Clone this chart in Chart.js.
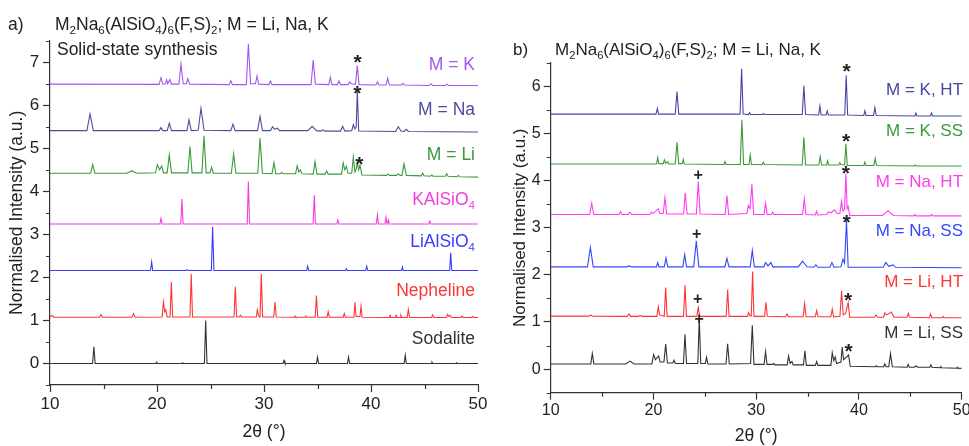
<!DOCTYPE html>
<html>
<head>
<meta charset="utf-8">
<script src="https://cdn.jsdelivr.net/npm/chart.js@4.4.1/dist/chart.umd.min.js"></script>
<style>
  html, body { margin: 0; padding: 0; background: #fff; }
  body { width: 969px; height: 446px; position: relative; overflow: hidden; }
  .panel { position: absolute; top: 0; height: 446px; }
  #wrapA { left: 0; width: 490px; }
  #wrapB { left: 490px; width: 479px; }
</style>
</head>
<body>
<div class="panel" id="wrapA"><canvas id="chartA"></canvas></div>
<div class="panel" id="wrapB"><canvas id="chartB"></canvas></div>
<script>
// ---- panel a: solid-state products and reference phases, [2theta, normalised intensity]
var kSS = [[10,6.49],[20.2,6.485],[20.37,6.64],[20.55,6.49],[20.8,6.5],[20.9,6.59],[21.0,6.5],[21.2,6.6],[21.35,6.49],[22.05,6.49],[22.24,6.96],[22.45,6.5],[22.75,6.5],[22.87,6.62],[23.05,6.49],[26.75,6.48],[26.9,6.57],[27.05,6.48],[28.35,6.48],[28.54,7.42],[28.75,6.5],[29.2,6.5],[29.35,6.68],[29.5,6.49],[30.45,6.48],[30.6,6.56],[30.75,6.48],[34.4,6.48],[34.6,7.05],[34.8,6.49],[36.05,6.48],[36.2,6.65],[36.35,6.48],[36.85,6.48],[37.0,6.56],[37.15,6.48],[37.85,6.48],[38.0,6.54],[38.15,6.5],[38.55,6.49],[38.72,6.92],[38.88,6.48],[40.45,6.47],[40.6,6.54],[40.75,6.47],[41.4,6.47],[41.56,6.63],[41.72,6.47],[42.85,6.47],[43.0,6.51],[43.15,6.47],[45.45,6.46],[45.6,6.5],[45.75,6.46],[46.95,6.46],[47.1,6.49],[47.25,6.46],[50,6.46]];
var naSS = [[10,5.41],[13.45,5.41],[13.74,5.80],[14.05,5.41],[20.2,5.41],[20.37,5.48],[20.55,5.41],[20.95,5.41],[21.15,5.58],[21.35,5.41],[22.8,5.41],[22.99,5.66],[23.2,5.41],[23.85,5.42],[24.11,5.93],[24.4,5.42],[26.9,5.41],[27.1,5.56],[27.3,5.41],[29.4,5.41],[29.63,5.74],[29.85,5.41],[30.6,5.41],[30.8,5.5],[31.0,5.44],[31.25,5.47],[31.45,5.41],[34.1,5.41],[34.5,5.51],[34.9,5.41],[35.3,5.4],[35.5,5.43],[35.7,5.4],[37.15,5.4],[37.35,5.51],[37.55,5.4],[38.2,5.41],[38.35,5.55],[38.5,5.45],[38.62,5.5],[38.72,6.35],[38.85,5.4],[42.3,5.39],[42.55,5.5],[42.8,5.4],[43.1,5.39],[43.3,5.44],[43.5,5.39],[50,5.38]];
var liSS = [[10,4.42],[13.8,4.42],[13.99,4.62],[14.2,4.42],[17.2,4.42],[17.63,4.48],[18.1,4.42],[19.85,4.43],[20.03,4.62],[20.25,4.5],[20.44,4.59],[20.6,4.43],[20.95,4.43],[21.15,4.85],[21.35,4.43],[22.88,4.43],[23.08,5.04],[23.28,4.43],[24.2,4.43],[24.39,5.29],[24.6,4.43],[24.95,4.43],[25.1,4.56],[25.25,4.42],[26.95,4.42],[27.16,4.87],[27.37,4.42],[29.42,4.42],[29.63,5.23],[29.85,4.42],[30.75,4.41],[30.93,4.67],[31.1,4.41],[31.5,4.41],[31.65,4.44],[31.8,4.41],[32.95,4.41],[33.1,4.59],[33.25,4.45],[33.4,4.5],[33.55,4.41],[34.6,4.4],[34.77,4.69],[34.95,4.4],[35.7,4.4],[35.86,4.47],[36.0,4.4],[37.25,4.4],[37.4,4.66],[37.55,4.5],[37.7,4.58],[37.85,4.42],[38.2,4.42],[38.35,4.8],[38.5,4.45],[38.6,4.5],[38.72,4.67],[38.85,4.5],[38.97,4.61],[39.15,4.38],[41.45,4.37],[41.6,4.4],[41.75,4.37],[42.4,4.37],[42.55,4.41],[42.7,4.37],[42.9,4.37],[43.08,4.64],[43.3,4.37],[44.7,4.36],[44.83,4.42],[44.95,4.36],[45.55,4.35],[45.67,4.38],[45.8,4.35],[46.95,4.35],[47.07,4.41],[47.2,4.35],[48.05,4.34],[48.16,4.37],[48.3,4.34],[50,4.33]];
var kalsio4 = [[10,3.24],[20.27,3.24],[20.37,3.37],[20.47,3.24],[22.22,3.24],[22.33,3.82],[22.44,3.24],[28.43,3.24],[28.54,4.23],[28.65,3.24],[34.59,3.24],[34.7,3.91],[34.81,3.24],[36.8,3.24],[36.9,3.34],[37.0,3.24],[40.5,3.24],[40.6,3.45],[40.7,3.24],[41.3,3.24],[41.4,3.4],[41.5,3.24],[41.55,3.24],[41.63,3.33],[41.7,3.24],[45.4,3.24],[45.5,3.31],[45.6,3.24],[50,3.24]];
var lialsio4 = [[10,2.16],[19.4,2.16],[19.5,2.36],[19.6,2.16],[22.7,2.16],[22.8,2.18],[22.9,2.16],[25.08,2.16],[25.2,3.17],[25.32,2.16],[33.98,2.16],[34.08,2.26],[34.18,2.16],[37.62,2.16],[37.7,2.2],[37.78,2.16],[39.5,2.16],[39.6,2.26],[39.7,2.16],[42.85,2.16],[42.93,2.24],[43.01,2.16],[47.35,2.16],[47.45,2.57],[47.55,2.16],[50,2.16]];
var nepheline = [[10,1.075],[10.2,1.12],[10.35,1.075],[14.65,1.075],[14.77,1.14],[14.9,1.075],[17.65,1.075],[17.8,1.16],[17.95,1.075],[20.48,1.08],[20.6,1.43],[20.72,1.2],[20.83,1.25],[20.95,1.08],[21.22,1.08],[21.34,1.89],[21.46,1.08],[23.08,1.08],[23.2,2.08],[23.32,1.08],[27.2,1.08],[27.32,1.78],[27.44,1.08],[27.7,1.08],[27.8,1.12],[27.9,1.08],[29.28,1.08],[29.38,1.25],[29.5,1.1],[29.63,1.08],[29.75,2.08],[29.87,1.08],[30.91,1.08],[31.03,1.43],[31.15,1.08],[32.82,1.075],[32.9,1.1],[32.98,1.075],[33.82,1.075],[33.9,1.1],[33.98,1.075],[34.78,1.075],[34.9,1.58],[35.02,1.075],[35.9,1.075],[36.0,1.2],[36.1,1.075],[37.4,1.075],[37.5,1.16],[37.6,1.075],[38.4,1.075],[38.5,1.42],[38.6,1.09],[38.97,1.09],[39.07,1.33],[39.17,1.075],[41.72,1.07],[41.8,1.12],[41.88,1.07],[42.27,1.07],[42.35,1.12],[42.43,1.07],[42.72,1.07],[42.8,1.12],[42.88,1.07],[43.38,1.07],[43.49,1.25],[43.6,1.07],[45.66,1.07],[45.76,1.13],[45.86,1.07],[47.06,1.07],[47.16,1.14],[47.26,1.1],[47.4,1.12],[47.5,1.07],[48.4,1.07],[48.5,1.1],[48.6,1.07],[49.4,1.07],[49.5,1.09],[49.6,1.07],[50,1.07]];
var sodalite = [[10,0],[13.98,0],[14.1,0.39],[14.22,0],[19.9,0],[19.97,0.03],[20.04,0],[22.33,0],[22.4,0.015],[22.47,0],[24.43,0],[24.55,1.0],[24.67,0],[31.78,0],[31.87,0.07],[31.96,0],[34.9,0],[35.0,0.15],[35.1,0],[37.8,0],[37.9,0.15],[38.0,0],[43.1,0],[43.2,0.19],[43.3,0],[45.62,0],[45.7,0.03],[45.78,0],[47.93,0],[48.0,0.015],[48.07,0],[50,0]];

var namesA = ['M = K', 'M = Na', 'M = Li', 'KAlSiO_4', 'LiAlSiO_4', 'Nepheline', 'Sodalite'];
var colorsA = ['#a455f0', '#4d4d9c', '#3b9a3b', '#f23ddc', '#3a3aff', '#ff3535', '#333333'];
var labelYA = [6.94, 5.89, 4.85, 3.8, 2.81, 1.69, 0.56];
var starsA = [[38.75, 7.115], [38.72, 6.40], [38.9, 4.75]];

// ---- panel b: hydrothermal (HT) vs solid-state (SS) products
var kHT = [[10,5.41],[20.25,5.41],[20.38,5.53],[20.5,5.41],[22.12,5.41],[22.29,5.89],[22.46,5.41],[28.43,5.41],[28.58,6.37],[28.73,5.41],[29.25,5.4],[29.36,5.44],[29.47,5.4],[30.6,5.4],[30.7,5.42],[30.8,5.4],[34.48,5.4],[34.64,6.01],[34.8,5.4],[36.08,5.39],[36.2,5.58],[36.32,5.39],[36.8,5.39],[36.91,5.48],[37.02,5.39],[38.62,5.39],[38.76,6.23],[38.9,5.39],[40.47,5.38],[40.58,5.48],[40.69,5.38],[41.42,5.38],[41.55,5.55],[41.68,5.38],[45.44,5.37],[45.54,5.43],[45.64,5.37],[46.96,5.37],[47.06,5.43],[47.16,5.37],[50,5.37]];
var kSS2 = [[10,4.35],[20.3,4.35],[20.41,4.49],[20.52,4.36],[20.96,4.36],[21.06,4.44],[21.2,4.36],[21.38,4.4],[21.5,4.35],[22.12,4.35],[22.29,4.81],[22.46,4.36],[22.8,4.36],[22.9,4.45],[23.0,4.35],[26.86,4.34],[26.96,4.4],[27.06,4.34],[28.45,4.34],[28.61,5.29],[28.77,4.34],[29.3,4.34],[29.42,4.54],[29.54,4.34],[30.58,4.34],[30.69,4.39],[30.8,4.34],[34.48,4.33],[34.64,4.92],[34.8,4.33],[36.1,4.33],[36.23,4.51],[36.36,4.33],[36.85,4.33],[36.95,4.42],[37.05,4.33],[38.04,4.33],[38.14,4.38],[38.24,4.34],[38.6,4.33],[38.73,4.78],[38.86,4.32],[40.48,4.32],[40.58,4.39],[40.68,4.32],[41.45,4.32],[41.58,4.47],[41.71,4.32],[45.4,4.31],[45.5,4.33],[45.6,4.31],[50,4.31]];
var naHT = [[10,3.28],[13.8,3.28],[13.99,3.52],[14.18,3.28],[16.65,3.28],[16.8,3.34],[16.95,3.28],[17.55,3.28],[17.7,3.33],[17.85,3.28],[19.65,3.28],[19.8,3.33],[19.95,3.3],[20.47,3.4],[20.62,3.3],[20.95,3.3],[21.12,3.64],[21.29,3.29],[22.93,3.29],[23.1,3.74],[23.27,3.29],[24.18,3.29],[24.36,3.98],[24.54,3.29],[26.98,3.28],[27.15,3.68],[27.32,3.28],[29.1,3.3],[29.23,3.47],[29.4,3.4],[29.58,3.92],[29.75,3.28],[30.76,3.28],[30.91,3.52],[31.06,3.28],[31.48,3.28],[31.6,3.33],[31.72,3.28],[34.52,3.28],[34.68,3.61],[34.84,3.28],[35.75,3.27],[35.87,3.35],[36.0,3.27],[36.85,3.28],[37.0,3.33],[37.3,3.32],[37.6,3.38],[37.9,3.3],[38.15,3.3],[38.3,3.56],[38.45,3.35],[38.6,3.4],[38.73,4.15],[38.85,3.4],[38.95,3.45],[39.1,3.26],[42.3,3.26],[42.6,3.32],[42.85,3.36],[43.1,3.3],[43.4,3.26],[45.34,3.25],[45.44,3.28],[45.54,3.25],[46.96,3.25],[47.06,3.28],[47.16,3.25],[50,3.25]];
var naSS2 = [[10,2.17],[13.58,2.17],[13.86,2.58],[14.14,2.17],[17.4,2.17],[17.62,2.19],[17.85,2.17],[20.28,2.17],[20.41,2.26],[20.54,2.17],[21.05,2.17],[21.22,2.36],[21.39,2.17],[22.86,2.17],[23.04,2.43],[23.22,2.17],[23.92,2.17],[24.17,2.72],[24.42,2.17],[26.95,2.17],[27.15,2.35],[27.35,2.17],[29.42,2.17],[29.62,2.52],[29.82,2.17],[30.74,2.17],[30.91,2.26],[31.15,2.19],[31.43,2.26],[31.62,2.17],[34.1,2.17],[34.51,2.29],[34.95,2.17],[35.6,2.16],[35.81,2.21],[36.0,2.16],[37.17,2.16],[37.37,2.26],[37.57,2.16],[38.25,2.17],[38.44,2.33],[38.6,2.25],[38.79,3.15],[38.95,2.16],[42.35,2.16],[42.62,2.26],[42.9,2.18],[43.33,2.21],[43.55,2.16],[50,2.15]];
var liHT = [[10,1.125],[13.75,1.125],[13.9,1.15],[14.05,1.125],[17.45,1.12],[17.62,1.17],[17.8,1.12],[18.55,1.12],[18.7,1.14],[18.85,1.12],[20.33,1.12],[20.47,1.32],[20.6,1.15],[21.05,1.12],[21.19,1.73],[21.33,1.12],[22.93,1.12],[23.07,1.78],[23.21,1.12],[24.22,1.12],[24.36,1.31],[24.5,1.12],[27.08,1.12],[27.22,1.69],[27.36,1.12],[29.15,1.12],[29.26,1.2],[29.4,1.13],[29.52,1.13],[29.65,2.07],[29.78,1.12],[30.82,1.12],[30.95,1.42],[31.08,1.12],[32.85,1.11],[33.0,1.17],[33.15,1.11],[34.57,1.11],[34.71,1.39],[34.85,1.11],[35.75,1.11],[35.88,1.24],[36.01,1.11],[37.27,1.11],[37.4,1.27],[37.53,1.11],[38.15,1.12],[38.31,1.66],[38.47,1.15],[38.7,1.18],[38.95,1.41],[39.1,1.1],[41.5,1.1],[41.65,1.15],[41.8,1.1],[42.4,1.1],[42.52,1.19],[42.7,1.15],[43.17,1.21],[43.4,1.1],[44.67,1.1],[44.8,1.18],[44.93,1.1],[46.85,1.09],[46.97,1.17],[47.1,1.09],[48.1,1.09],[48.2,1.12],[48.3,1.09],[50,1.09]];
var liSS2 = [[10,0.11],[13.9,0.11],[14.05,0.33],[14.2,0.11],[17.3,0.11],[17.72,0.17],[18.1,0.11],[19.85,0.11],[20.02,0.31],[20.2,0.2],[20.5,0.28],[20.65,0.15],[21.02,0.15],[21.19,0.53],[21.36,0.13],[21.88,0.13],[22.0,0.19],[22.12,0.12],[22.92,0.12],[23.07,0.74],[23.22,0.12],[24.32,0.12],[24.46,1.08],[24.6,0.12],[25.05,0.12],[25.17,0.25],[25.3,0.11],[27.06,0.11],[27.22,0.54],[27.38,0.11],[29.45,0.12],[29.62,0.93],[29.78,0.1],[30.77,0.1],[30.91,0.37],[31.05,0.1],[31.62,0.1],[31.72,0.12],[31.82,0.09],[33.02,0.09],[33.15,0.28],[33.3,0.12],[33.48,0.16],[33.6,0.09],[34.6,0.09],[34.74,0.39],[34.88,0.08],[35.76,0.08],[35.88,0.16],[36.0,0.08],[37.27,0.08],[37.4,0.35],[37.55,0.18],[37.69,0.26],[37.82,0.12],[38.25,0.15],[38.37,0.47],[38.5,0.2],[38.75,0.25],[38.99,0.3],[39.15,0.06],[41.6,0.05],[41.7,0.07],[41.8,0.05],[42.4,0.05],[42.52,0.11],[42.65,0.05],[42.9,0.05],[43.07,0.33],[43.25,0.05],[44.68,0.04],[44.79,0.1],[44.9,0.04],[45.4,0.04],[45.54,0.07],[45.7,0.04],[46.9,0.04],[47.0,0.09],[47.1,0.04],[47.9,0.03],[47.97,0.05],[48.05,0.03],[49.5,0.02],[49.56,0.04],[49.62,0.02],[50,0.015]];

var namesB = ['M = K, HT', 'M = K, SS', 'M = Na, HT', 'M = Na, SS', 'M = Li, HT', 'M = Li, SS'];
var colorsB = ['#4747a3', '#3b9a3b', '#ff3cf0', '#3347ff', '#ff3535', '#333333'];
var labelYB = [5.92, 5.05, 3.97, 2.93, 1.85, 0.76];
var starsB = [[38.79, 6.42], [38.75, 4.95], [38.73, 4.26], [38.79, 3.23], [38.95, 1.57], [38.99, 0.49]];
var plusB = [[24.36, 4.12], [24.2, 2.87], [24.3, 1.49], [24.46, 1.06]];

var FONT = '"Liberation Sans", Arial, Helvetica, sans-serif';
var INK = '#222222';

// text with '_x' meaning x is a subscript
function drawRich(ctx, str, x, y, size, color, align) {
  var parts = [];
  for (var i = 0; i < str.length; i++) {
    if (str[i] === '_') { parts.push({ t: str[i + 1], sub: true }); i++; }
    else if (parts.length && !parts[parts.length - 1].sub) parts[parts.length - 1].t += str[i];
    else parts.push({ t: str[i], sub: false });
  }
  var subSize = size * 0.66, total = 0;
  parts.forEach(function (p) {
    ctx.font = (p.sub ? subSize : size) + 'px ' + FONT;
    p.w = ctx.measureText(p.t).width;
    total += p.w;
  });
  var cx = align === 'right' ? x - total : x;
  ctx.fillStyle = color;
  ctx.textAlign = 'left';
  ctx.textBaseline = 'middle';
  parts.forEach(function (p) {
    ctx.font = (p.sub ? subSize : size) + 'px ' + FONT;
    ctx.fillText(p.t, cx, p.sub ? y + size * 0.32 : y);
    cx += p.w;
  });
}

var xrdText = {
  id: 'xrdText',
  afterDatasetsDraw: function (chart, args, o) {
    var ctx = chart.ctx, sx = chart.scales.x, sy = chart.scales.y;
    ctx.save();
    (o.labels || []).forEach(function (l) {
      drawRich(ctx, l.text, sx.getPixelForValue(l.x), sy.getPixelForValue(l.y), o.size, l.color, l.align || 'right');
    });
    (o.notes || []).forEach(function (n) {
      drawRich(ctx, n.text, n.x, n.y, n.size || o.size, INK, 'left');
    });
    ctx.fillStyle = INK;
    ctx.textAlign = 'center';
    ctx.textBaseline = 'alphabetic';
    ctx.font = 'bold 21px ' + FONT;
    (o.stars || []).forEach(function (s) {
      ctx.fillText('*', sx.getPixelForValue(s[0]), sy.getPixelForValue(s[1]) + 21 * 0.57);
    });
    ctx.font = 'bold 16px ' + FONT;
    (o.plus || []).forEach(function (s) {
      ctx.fillText('+', sx.getPixelForValue(s[0]), sy.getPixelForValue(s[1]) + 16 * 0.33);
    });
    ctx.restore();
  }
};

// short ticks half-way between the labelled ones
var minorTicks = {
  id: 'minorTicks',
  afterDraw: function (chart, args, o) {
    var ctx = chart.ctx, sx = chart.scales.x, sy = chart.scales.y, a = chart.chartArea;
    ctx.save();
    ctx.strokeStyle = '#333';
    ctx.lineWidth = 1.2;
    ctx.beginPath();
    o.x.forEach(function (v) { var p = Math.round(sx.getPixelForValue(v)) + 0.5; ctx.moveTo(p, a.bottom); ctx.lineTo(p, a.bottom + 4); });
    o.y.forEach(function (v) { var p = Math.round(sy.getPixelForValue(v)) + 0.5; ctx.moveTo(a.left, p); ctx.lineTo(a.left - 4, p); });
    ctx.stroke();
    ctx.restore();
  }
};

function makeChart(id, series, colors, cfg) {
  var datasets = series.map(function (d, i) {
    return { data: d, borderColor: colors[i], backgroundColor: colors[i], borderWidth: 1.1, pointRadius: 0, tension: 0, fill: false };
  });
  var minorY = [], majorY = [];
  for (var v = cfg.yMin; v <= cfg.yMax; v += 1) minorY.push(v);
  for (var m = Math.ceil(cfg.yMin); m <= cfg.yMax; m++) majorY.push(m);
  return new Chart(document.getElementById(id), {
    type: 'line',
    data: { datasets: datasets },
    plugins: [xrdText, minorTicks],
    options: {
      responsive: true,
      maintainAspectRatio: false,
      animation: false,
      devicePixelRatio: 1,
      layout: { padding: { left: 0, right: cfg.padRight, top: cfg.padTop, bottom: 0 } },
      plugins: {
        legend: { display: false },
        tooltip: { enabled: false },
        xrdText: cfg.text,
        minorTicks: { x: [15, 25, 35, 45], y: minorY }
      },
      scales: {
        x: {
          type: 'linear', min: 10, max: 50,
          ticks: { stepSize: 10, color: INK, font: { family: FONT, size: cfg.tickSize }, padding: cfg.xTickPad, maxRotation: 0 },
          grid: { drawOnChartArea: false, drawTicks: true, tickLength: 7, tickColor: '#333', tickWidth: 1.2 },
          border: { display: true, color: '#333', width: 1.2 },
          title: { display: true, text: '2θ (°)', color: INK, font: { family: FONT, size: 17.5, lineHeight: 1 }, padding: { top: 0, bottom: cfg.xTitlePad } },
          afterFit: function (s) { s.height = cfg.xHeight; s.paddingLeft = 0; s.paddingRight = 0; }
        },
        y: {
          type: 'linear', min: cfg.yMin, max: cfg.yMax,
          ticks: { color: INK, font: { family: FONT, size: cfg.tickSize }, padding: cfg.yTickPad },
          afterBuildTicks: function (s) { s.ticks = majorY.map(function (t) { return { value: t }; }); },
          grid: { drawOnChartArea: false, drawTicks: true, tickLength: 7, tickColor: '#333', tickWidth: 1.2 },
          border: { display: true, color: '#333', width: 1.2 },
          title: { display: true, text: 'Normalised Intensity (a.u.)', color: INK, font: { family: FONT, size: cfg.yTitleSize, lineHeight: 1 }, padding: { top: cfg.yTitlePad, bottom: 0 } },
          afterFit: function (s) { s.width = cfg.yWidth; s.paddingTop = 0; s.paddingBottom = 0; }
        }
      }
    }
  });
}

var seriesA = [kSS, naSS, liSS, kalsio4, lialsio4, nepheline, sodalite];
var seriesB = [kHT, kSS2, naHT, naSS2, liHT, liSS2];
var formula = 'M_2Na_6(AlSiO_4)_6(F,S)_2; M = Li, Na, K';

makeChart('chartA', seriesA, colorsA, {
  yMin: -0.5, yMax: 7.5, padTop: 40.7, padRight: 12, yWidth: 50, xHeight: 61,
  tickSize: 17, xTickPad: 2, yTickPad: 3.7, xTitlePad: 5.5, yTitlePad: 8.2, yTitleSize: 17.5,
  text: {
    size: 17.5,
    labels: namesA.map(function (n, i) { return { text: n, x: 49.72, y: labelYA[i], color: colorsA[i] }; })
      .concat([{ text: 'Solid-state synthesis', x: 10.65, y: 7.29, color: INK, align: 'left' }]),
    notes: [{ text: 'a)', x: 8, y: 25 }, { text: formula, x: 55, y: 25 }],
    stars: starsA
  }
});

makeChart('chartB', seriesB, colorsB, {
  yMin: -0.5, yMax: 6.5, padTop: 62.7, padRight: 7.3, yWidth: 60.7, xHeight: 53.3,
  tickSize: 16, xTickPad: 1, yTickPad: 3, xTitlePad: 0.8, yTitlePad: 21.5, yTitleSize: 17,
  text: {
    size: 17,
    labels: namesB.map(function (n, i) { return { text: n, x: 50.13, y: labelYB[i], color: colorsB[i] }; }),
    notes: [{ text: 'b)', x: 23, y: 50 }, { text: formula, x: 65, y: 50, size: 17 }],
    stars: starsB,
    plus: plusB
  }
});
</script>
</body>
</html>
